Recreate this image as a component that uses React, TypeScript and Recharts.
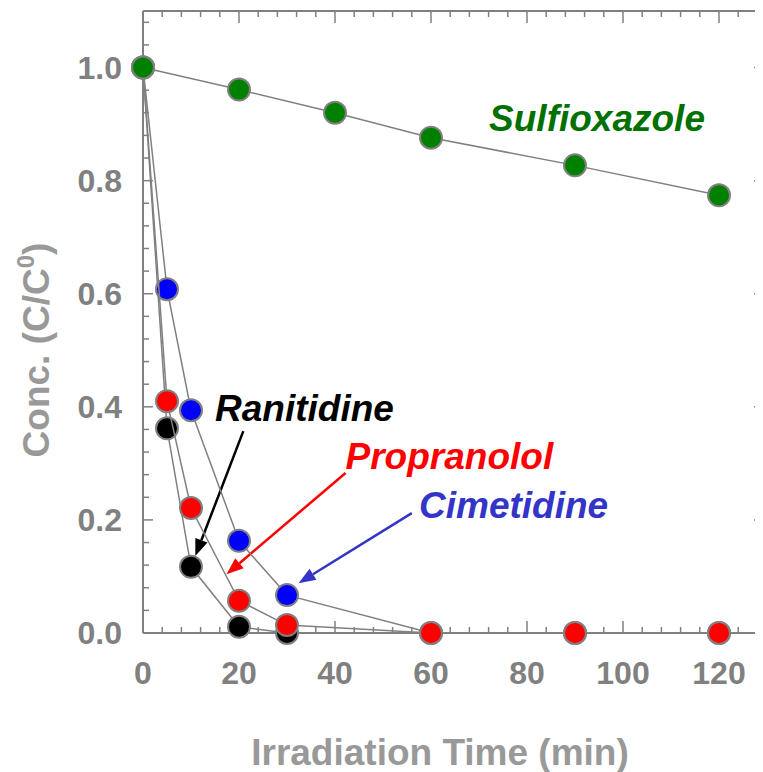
import { ScatterChart, Scatter, XAxis, YAxis, ReferenceLine, ReferenceDot } from 'recharts';

// measured concentrations C/C0 vs irradiation time (min)
const ranitidine = [
  { x: 0, y: 1.0 },
  { x: 5, y: 0.362 },
  { x: 10, y: 0.117 },
  { x: 20, y: 0.011 },
  { x: 30, y: 0.0 },
];
const propranolol = [
  { x: 0, y: 1.0 },
  { x: 5, y: 0.41 },
  { x: 10, y: 0.221 },
  { x: 20, y: 0.057 },
  { x: 30, y: 0.014 },
  { x: 60, y: 0.0 },
  { x: 90, y: 0.0 },
  { x: 120, y: 0.0 },
];
const cimetidine = [
  { x: 0, y: 1.0 },
  { x: 5, y: 0.608 },
  { x: 10, y: 0.394 },
  { x: 20, y: 0.163 },
  { x: 30, y: 0.067 },
  { x: 60, y: 0.0 },
  { x: 90, y: 0.0 },
  { x: 120, y: 0.0 },
];
const sulfioxazole = [
  { x: 0, y: 1.0 },
  { x: 20, y: 0.961 },
  { x: 40, y: 0.92 },
  { x: 60, y: 0.876 },
  { x: 90, y: 0.827 },
  { x: 120, y: 0.774 },
];

const xMajor = [0, 20, 40, 60, 80, 100, 120];
const xMinor = [4, 8, 12, 16, 24, 28, 32, 36, 44, 48, 52, 56, 64, 68, 72, 76, 84, 88, 92, 96, 104, 108, 112, 116, 124, 128];
const yMajor = [0, 0.2, 0.4, 0.6, 0.8, 1.0];
const yMinor = [0.04, 0.08, 0.12, 0.16, 0.24, 0.28, 0.32, 0.36, 0.44, 0.48, 0.52, 0.56, 0.64, 0.68, 0.72, 0.76, 0.84, 0.88, 0.92, 0.96, 1.04, 1.08];

// compound labels: [name, x, y, color]
const labels: [string, number, number, string][] = [
  ['Sulfioxazole', 72.1, 0.887, '#007000'],
  ['Ranitidine', 15.0, 0.375, '#000000'],
  ['Propranolol', 42.2, 0.29, '#ff0000'],
  ['Cimetidine', 57.5, 0.203, '#3434c8'],
];

// arrows: from (x1,y1) to tip (x2,y2)
const arrows: [number, number, number, number, string][] = [
  [20.9, 0.357, 10.9, 0.136, '#000000'],
  [42.2, 0.283, 17.4, 0.104, '#ff0000'],
  [56.0, 0.212, 32.4, 0.088, '#3434c8'],
];

const FONT = '"Liberation Sans", Arial, Helvetica, sans-serif';
const GRAY = '#808080';
const X_DOMAIN = [0, 130];
const Y_DOMAIN = [0, 1.1];

const marker = (fill: string) => (props: any) => (
  <circle cx={props.cx} cy={props.cy} r={11} fill={fill} stroke={GRAY} strokeWidth={2} />
);

const arrowShape = (color: string) => (p: any) => {
  const { x1, y1, x2, y2 } = p;
  const ang = Math.atan2(y2 - y1, x2 - x1);
  const L = 17;
  const W = 6.5;
  const bx = x2 - L * Math.cos(ang);
  const by = y2 - L * Math.sin(ang);
  const px = -Math.sin(ang) * W;
  const py = Math.cos(ang) * W;
  return (
    <g>
      <line x1={x1} y1={y1} x2={bx} y2={by} stroke={color} strokeWidth={2.5} />
      <polygon points={`${x2},${y2} ${bx + px},${by + py} ${bx - px},${by - py}`} fill={color} />
    </g>
  );
};

// inward tick marks drawn at both ends of a full-height / full-width reference line
const vTicks = (len: number) => (p: any) => {
  const top = Math.min(p.y1, p.y2);
  const bot = Math.max(p.y1, p.y2);
  return (
    <g stroke={GRAY} strokeWidth={1.5}>
      <line x1={p.x1} y1={top} x2={p.x1} y2={top + len} />
      <line x1={p.x1} y1={bot} x2={p.x1} y2={bot - len} />
    </g>
  );
};
const hTicks = (lenL: number, lenR: number) => (p: any) => {
  const left = Math.min(p.x1, p.x2);
  const right = Math.max(p.x1, p.x2);
  return (
    <g stroke={GRAY} strokeWidth={1.5}>
      <line x1={left} y1={p.y1} x2={left + lenL} y2={p.y1} />
      <line x1={right} y1={p.y1} x2={right - lenR} y2={p.y1} />
    </g>
  );
};

const YTitle = () => (
  <text
    x={41}
    y={342}
    transform="rotate(-90, 41, 342)"
    textAnchor="middle"
    fontFamily={FONT}
    fontWeight="bold"
    fontSize={37}
    fill="#999999"
  >
    Conc. (C/C
    <tspan fontSize={24} dy={-15}>0</tspan>
    <tspan dy={15}>)</tspan>
  </text>
);

const XTitle = () => (
  <text x={432} y={757} textAnchor="middle" fontFamily={FONT} fontWeight="bold" fontSize={37} fill="#999999">
    Irradiation Time (min)
  </text>
);

const tickStyle = { fontFamily: FONT, fontWeight: 'bold', fontSize: 32, fill: GRAY };

export default function App() {
  return (
    <div style={{ width: 800 }}>
      <style>{'body{overflow:hidden}'}</style>
      <ScatterChart width={770} height={764} margin={{ top: 3, right: 11, left: 0, bottom: 0 }}>
        <XAxis
          type="number"
          dataKey="x"
          domain={X_DOMAIN}
          ticks={xMajor}
          interval={0}
          height={139}
          tickLine={false}
          tickSize={0}
          tickMargin={28}
          axisLine={{ stroke: GRAY, strokeWidth: 2 }}
          tick={tickStyle}
          label={{ content: () => <XTitle /> }}
        />
        <YAxis
          type="number"
          dataKey="y"
          domain={Y_DOMAIN}
          ticks={yMajor}
          interval={0}
          width={135}
          tickLine={false}
          tickSize={0}
          tickMargin={21}
          tickFormatter={(v: number) => v.toFixed(1)}
          axisLine={{ stroke: GRAY, strokeWidth: 2 }}
          tick={tickStyle}
          label={{ content: () => <YTitle /> }}
        />

        {/* frame top (right edge falls outside the window) */}
        <ReferenceLine y={1.1} stroke={GRAY} strokeWidth={2} />
        {/* inward ticks */}
        {xMajor.map((t) => (
          <ReferenceLine key={`xM${t}`} x={t} shape={vTicks(12)} />
        ))}
        {xMinor.map((t) => (
          <ReferenceLine key={`xm${t}`} x={t} shape={vTicks(6)} />
        ))}
        {yMajor.map((v) => (
          <ReferenceLine key={`yM${v}`} y={v} shape={hTicks(10, 13)} />
        ))}
        {yMinor.map((v) => (
          <ReferenceLine key={`ym${v}`} y={v} shape={hTicks(6, 9)} />
        ))}

        <Scatter name="Ranitidine" data={ranitidine} line={{ stroke: GRAY, strokeWidth: 1.5 }} shape={marker('#000000')} isAnimationActive={false} />
        <Scatter name="Cimetidine" data={cimetidine} line={{ stroke: GRAY, strokeWidth: 1.5 }} shape={marker('#0000ff')} isAnimationActive={false} />
        <Scatter name="Propranolol" data={propranolol} line={{ stroke: GRAY, strokeWidth: 1.5 }} shape={marker('#ff0000')} isAnimationActive={false} />
        <Scatter name="Sulfioxazole" data={sulfioxazole} line={{ stroke: GRAY, strokeWidth: 1.5 }} shape={marker('#008000')} isAnimationActive={false} />

        {arrows.map(([x1, y1, x2, y2, c], i) => (
          <ReferenceLine
            key={`a${i}`}
            segment={[{ x: x1, y: y1 }, { x: x2, y: y2 }]}
            shape={arrowShape(c)}
          />
        ))}
        {labels.map(([name, x, y, c]) => (
          <ReferenceDot
            key={name}
            x={x}
            y={y}
            r={0}
            shape={(p: any) => (
              <text x={p.cx} y={p.cy} fontFamily={FONT} fontWeight="bold" fontStyle="italic" fontSize={37} fill={c}>
                {name}
              </text>
            )}
          />
        ))}
      </ScatterChart>
    </div>
  );
}
